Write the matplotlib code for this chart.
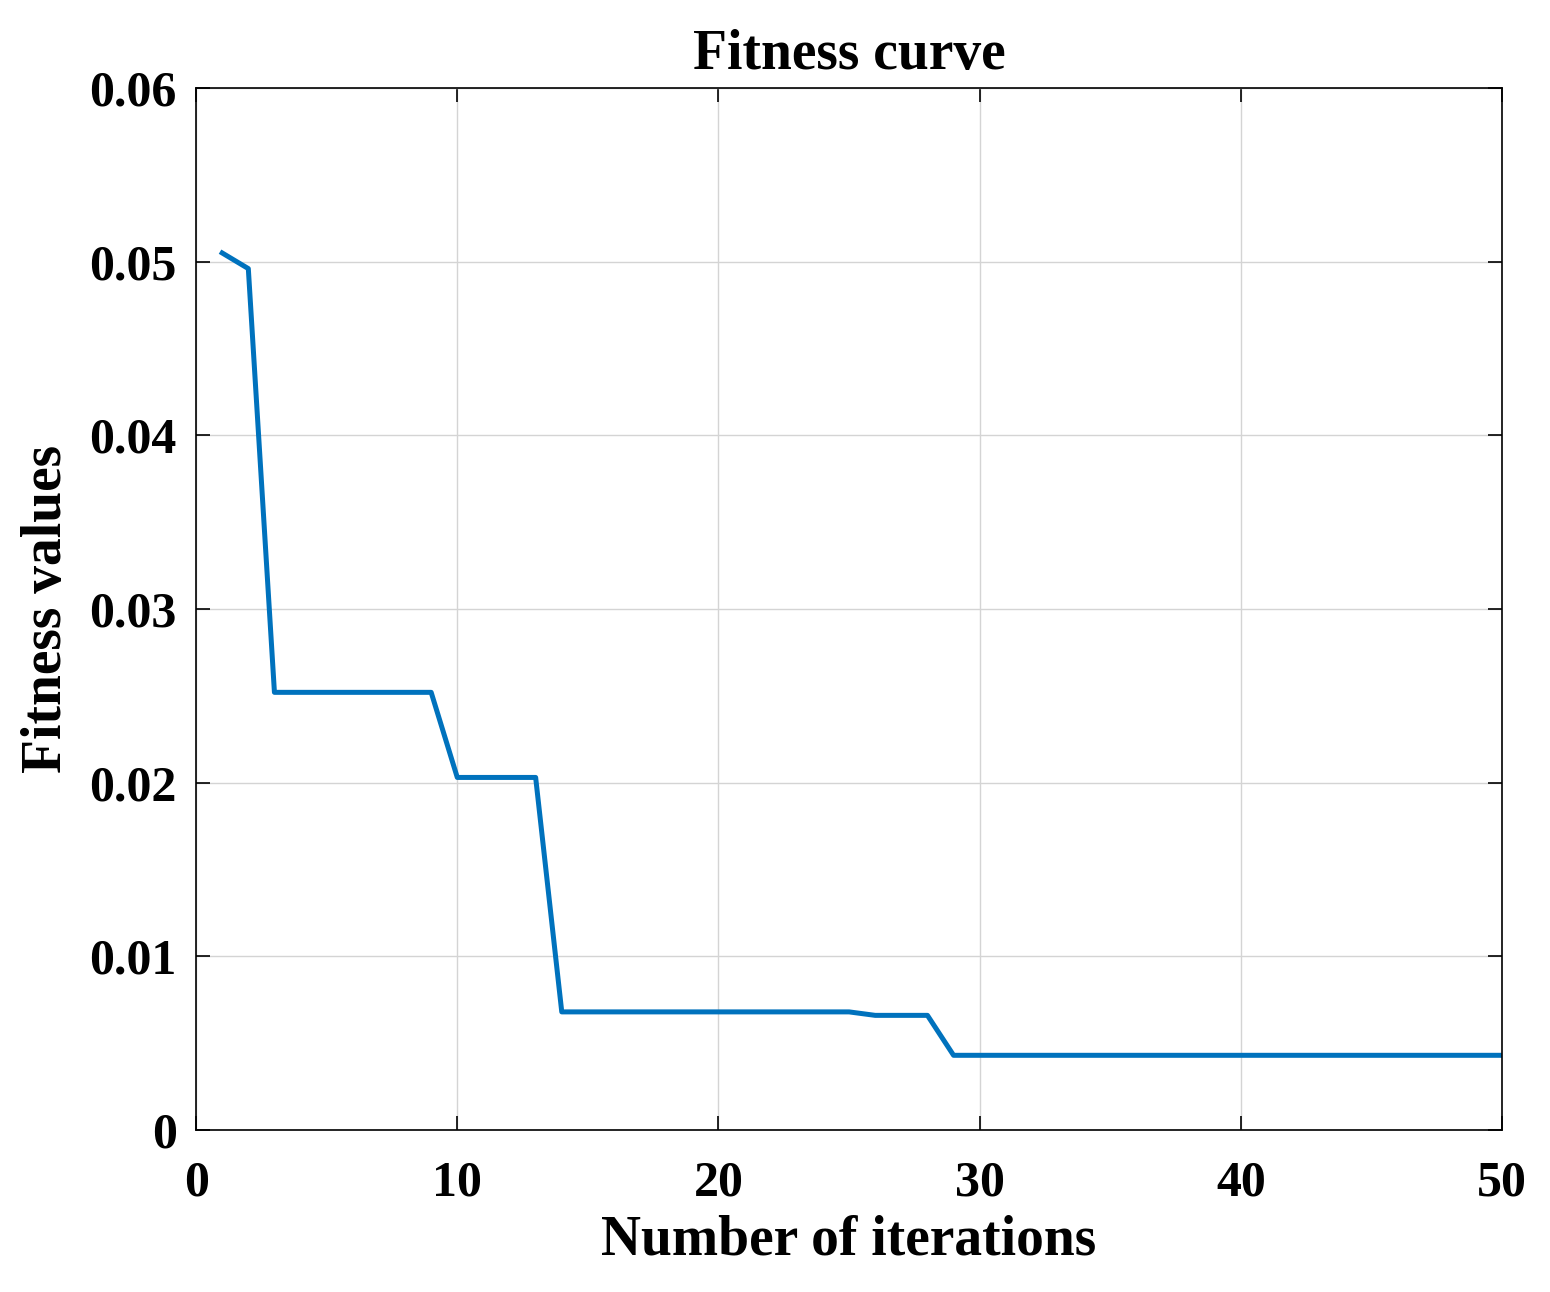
import matplotlib.pyplot as plt
import numpy as np

# best fitness at each iteration
iterations = np.arange(1, 51)
fitness = ([0.0505, 0.0496]
           + [0.0252] * 7
           + [0.0203] * 4
           + [0.0068] * 12
           + [0.0066] * 3
           + [0.0043] * 22)

x_ticks = [0, 10, 20, 30, 40, 50]
y_ticks = [0, 0.01, 0.02, 0.03, 0.04, 0.05, 0.06]
y_labels = ['0', '0.01', '0.02', '0.03', '0.04', '0.05', '0.06']

plt.rcParams['font.family'] = ['Liberation Serif', 'DejaVu Serif']
plt.rcParams['font.weight'] = 'bold'

fig = plt.figure(figsize=(15.5, 12.92), dpi=100)
ax = fig.add_axes([0.1265, 0.1254, 0.8426, 0.8065])
ax.plot(iterations, fitness, color='#0072BD', linewidth=3.6)

ax.set_xlim(0, 50)
ax.set_ylim(0, 0.06)
ax.set_xticks(x_ticks)
ax.set_yticks(y_ticks)
ax.set_yticklabels(y_labels)
ax.tick_params(direction='in', top=True, right=True, length=10, width=1.2,
               labelsize=36)
ax.tick_params(axis='x', pad=22)
ax.tick_params(axis='y', pad=14)
for lbl in ax.get_xticklabels() + ax.get_yticklabels():
    lbl.set_fontweight('bold')
ax.grid(True, color='#d4d4d4', linewidth=1.0)
for s in ax.spines.values():
    s.set_linewidth(1.2)

ax.set_title('Fitness curve', fontsize=40, fontweight='bold', pad=14)
ax.set_xlabel('Number of iterations', fontsize=40, fontweight='bold', labelpad=6)
ax.set_ylabel('Fitness values', fontsize=40, fontweight='bold', labelpad=12)

fig.savefig('out.png', dpi=100)
plt.close(fig)
